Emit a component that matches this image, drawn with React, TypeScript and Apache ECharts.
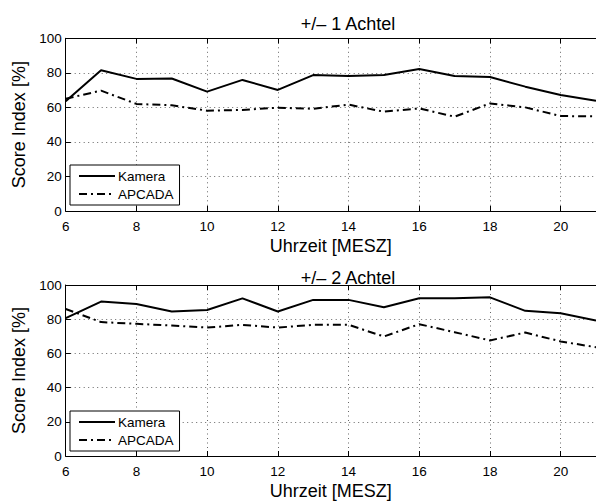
import React, { useEffect, useRef } from "react";
import * as echarts from "echarts";

const hours = [6, 7, 8, 9, 10, 11, 12, 13, 14, 15, 16, 17, 18, 19, 20, 21];
const kameraTop = [63.5, 81.5, 76.5, 76.7, 69.1, 75.9, 70.1, 78.7, 78.2, 78.7, 82.2, 78.2, 77.6, 72.0, 67.2, 63.8];
const apcadaTop = [65.0, 69.7, 62.0, 61.2, 58.1, 58.5, 59.8, 59.2, 61.6, 57.5, 59.4, 54.6, 62.3, 60.0, 55.0, 54.8];
const kameraBottom = [80.6, 90.3, 88.9, 84.5, 85.4, 92.2, 84.5, 91.3, 91.3, 87.0, 92.2, 92.2, 92.8, 84.9, 83.5, 79.2];
const apcadaBottom = [86.0, 78.3, 77.3, 76.3, 75.1, 76.7, 75.1, 76.7, 76.7, 69.9, 77.1, 72.4, 67.6, 72.2, 67.0, 63.6];

const titles = ["+/\u2013 1 Achtel", "+/\u2013 2 Achtel"];
const xName = "Uhrzeit [MESZ]";
const yName = "Score Index [%]";
const seriesNames = ["Kamera", "APCADA"];

const FONT = "'Liberation Sans', Arial, Helvetica, sans-serif";
const DASHDOT = [8, 4, 2, 4];
const GRIDDOT = [1, 3.5];

export default function App() {
  const ref = useRef<HTMLDivElement>(null);
  useEffect(() => {
    document.body.style.margin = "0";
    const chart = echarts.init(ref.current!, undefined, { renderer: "svg" });
    const grids = [
      { left: 65.7, top: 38.3, width: 537.5, height: 172.7 },
      { left: 65.7, top: 285, width: 537.5, height: 171.7 },
    ];
    const xAxes: any[] = [];
    const yAxes: any[] = [];
    const legends: any[] = [];
    const titleArr: any[] = [];
    const series: any[] = [];
    const dataSets = [
      [kameraTop, apcadaTop],
      [kameraBottom, apcadaBottom],
    ];
    const legendTops = [165, 411];
    const titleTops = [10, 264];
    grids.forEach((g, i) => {
      xAxes.push({
        type: "value",
        gridIndex: i,
        position: "bottom",
        min: 6,
        max: 21,
        interval: 2,
        name: xName,
        nameLocation: "middle",
        nameGap: 26,
        nameTextStyle: { fontFamily: FONT, fontSize: 18, color: "#000" },
        axisLine: { show: true, onZero: false, lineStyle: { color: "#000", width: 1 } },
        axisTick: { show: true, inside: true, length: 5, lineStyle: { color: "#000" } },
        axisLabel: {
          show: true,
          margin: 8,
          fontFamily: FONT,
          fontSize: 13.5,
          color: "#000",
          showMaxLabel: false,
          formatter: (v: number) => (v > 20 ? "" : String(v)),
        },
        splitLine: { show: true, lineStyle: { type: GRIDDOT, color: "#666", width: 1 } },
      });
      xAxes.push({
        type: "value",
        gridIndex: i,
        position: "top",
        min: 6,
        max: 21,
        interval: 2,
        axisLine: { show: true, onZero: false, lineStyle: { color: "#000", width: 1 } },
        axisTick: { show: true, inside: true, length: 5, lineStyle: { color: "#000" } },
        axisLabel: { show: false },
        splitLine: { show: false },
      });
      yAxes.push({
        type: "value",
        gridIndex: i,
        min: 0,
        max: 100,
        interval: 20,
        name: yName,
        nameLocation: "middle",
        nameGap: 32,
        nameTextStyle: { fontFamily: FONT, fontSize: 18, color: "#000" },
        axisLine: { show: true, onZero: false, lineStyle: { color: "#000", width: 1 } },
        axisTick: { show: true, inside: true, length: 5, lineStyle: { color: "#000" } },
        axisLabel: { margin: 4, fontFamily: FONT, fontSize: 13.5, color: "#000" },
        splitLine: { show: true, lineStyle: { type: GRIDDOT, color: "#666", width: 1 } },
      });
      titleArr.push({
        text: titles[i],
        left: 343,
        top: titleTops[i],
        textAlign: "center",
        textStyle: { fontFamily: FONT, fontSize: 18, fontWeight: "normal", color: "#000" },
      });
      legends.push({
        data: seriesNames,
        orient: "vertical",
        left: 70,
        top: legendTops[i],
        padding: [4, 6, 4, 8],
        itemWidth: 36,
        itemHeight: 14,
        itemGap: 4,
        borderColor: "#000",
        borderWidth: 1,
        backgroundColor: "#fff",
        selectedMode: false,
        itemStyle: { opacity: 0 },
        textStyle: { fontFamily: FONT, fontSize: 13.5, color: "#000", padding: [0, 0, 0, -2] },
      });
      dataSets[i].forEach((vals, k) => {
        series.push({
          type: "line",
          name: seriesNames[k],
          xAxisIndex: i * 2,
          yAxisIndex: i,
          data: hours.map((h, j) => [h, vals[j]]),
          symbol: "none",
          lineStyle: { color: "#000", width: 2, type: k === 0 ? "solid" : DASHDOT },
          itemStyle: { color: "#000" },
          z: k === 0 ? 3 : 2,
        });
      });
    });
    chart.setOption({
      animation: false,
      backgroundColor: "#fff",
      title: titleArr,
      grid: grids,
      xAxis: xAxes,
      yAxis: yAxes,
      legend: legends,
      series,
    });
    return () => chart.dispose();
  }, []);
  return <div ref={ref} style={{ width: 596, height: 501 }} />;
}
